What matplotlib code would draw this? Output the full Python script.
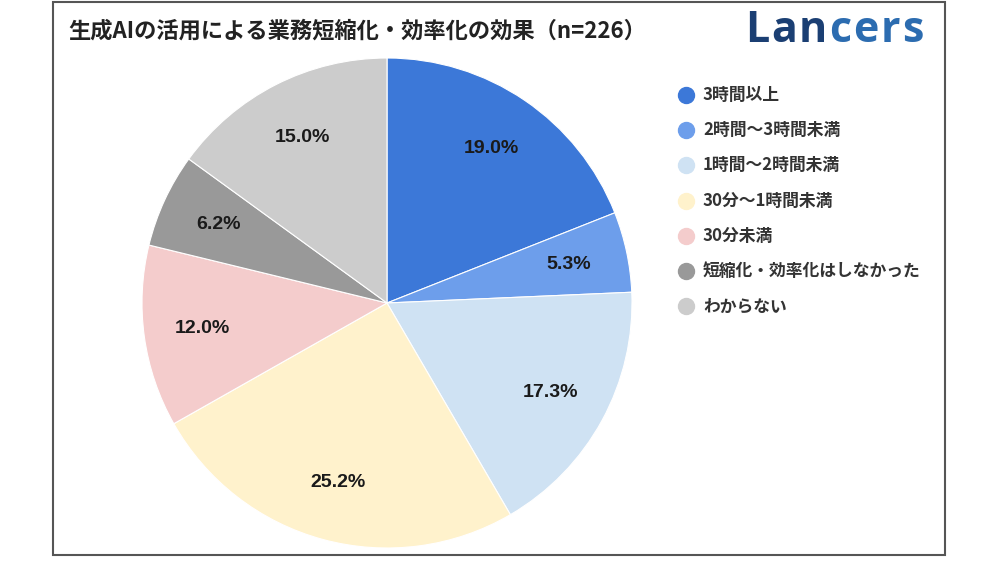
import matplotlib
matplotlib.use("Agg")
import matplotlib.pyplot as plt
from matplotlib.patches import Rectangle
from matplotlib.lines import Line2D

plt.rcParams['font.family'] = ['Noto Sans CJK JP', 'DejaVu Sans']

categories = ["3時間以上", "2時間〜3時間未満", "1時間〜2時間未満", "30分〜1時間未満",
              "30分未満", "短縮化・効率化はしなかった", "わからない"]
values = [19.0, 5.3, 17.3, 25.2, 12.0, 6.2, 15.0]
colors = ["#3C78D8", "#6D9EEB", "#CFE2F3", "#FFF2CC", "#F4CCCC", "#999999", "#CCCCCC"]
title = "生成AIの活用による業務短縮化・効率化の効果（n=226）"

W, H = 1000, 562
fig = plt.figure(figsize=(W / 100, H / 100), dpi=100)
fig.patch.set_facecolor("white")

# frame
fig.patches.append(Rectangle((53 / W, 1 - 555 / H), (945 - 53) / W, (555 - 2) / H,
                             transform=fig.transFigure, fill=False,
                             edgecolor="#555555", linewidth=1.5))

# pie
cx, cy, r = 387, 303, 245
ax = fig.add_axes([(cx - r) / W, (H - cy - r) / H, 2 * r / W, 2 * r / H])
wedges, texts, autotexts = ax.pie(values, colors=colors, startangle=90, counterclock=False,
                                  autopct="%.1f%%", pctdistance=0.76, radius=1,
                                  wedgeprops=dict(edgecolor="white", linewidth=0.8))
for t in autotexts:
    t.set_fontsize(14)
    t.set_fontweight("bold")
    t.set_color("#1a1a1a")
    t.set_family(["Liberation Sans", "DejaVu Sans"])
ax.set_xlim(-1, 1)
ax.set_ylim(-1, 1)
ax.set_aspect("equal")
ax.axis("off")

# title
fig.text(68 / W, 1 - 31 / H, title, fontsize=16, fontweight="bold", color="#222222",
         ha="left", va="center")

# logo (letter-spaced)
logo = "Lancers"
logo_colors = ["#1B3F73"] * 3 + ["#2C6CB0"] * 4
fig.canvas.draw()
renderer = fig.canvas.get_renderer()
x = 745.0
for ch, c in zip(logo, logo_colors):
    t = fig.text(x / W, 1 - 31 / H, ch, fontsize=31, fontweight="bold", color=c,
                 ha="left", va="center", family=["Open Sans", "DejaVu Sans"])
    w = t.get_window_extent(renderer).width
    x += w + 2.0

# legend
ly0, dy = 95, 35.2
for i, (lab, col) in enumerate(zip(categories, colors)):
    y = 1 - (ly0 + i * dy) / H
    fig.add_artist(Line2D([686 / W], [y], marker="o", markersize=11.5, color=col,
                          markeredgecolor=col, transform=fig.transFigure, linestyle="none"))
    fig.text(703 / W, y, lab, fontsize=12.1, fontweight="bold", color="#333333",
             ha="left", va="center")

fig.savefig("out.png", dpi=100, facecolor="white")
